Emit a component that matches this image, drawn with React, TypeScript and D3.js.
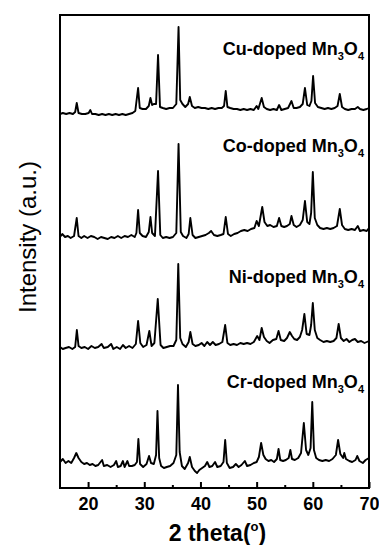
import React, { useRef, useEffect } from "react";
import * as d3 from "d3";

// x axis: 2 theta (degrees)
const thetaDomain = [15, 70];
const majorTicks = [20, 30, 40, 50, 60, 70];
const minorTicks = [25, 35, 45, 55, 65];

// stacked patterns, bottom to top
const dopants = ["Cr", "Ni", "Co", "Cu"];
const stackOffsets = [0, 117, 228, 352];

// [2theta, intensity (a.u.)]
const crPattern: [number, number][] = [
  [15.0, 26], [15.5, 29], [16.0, 25], [16.5, 27], [17.0, 25], [17.5, 30], [17.9, 35], [18.3, 30],
  [18.8, 26], [19.3, 24], [19.8, 25], [20.3, 23], [20.8, 24], [21.3, 22], [21.8, 23], [22.5, 28],
  [22.8, 22], [23.4, 23], [24.0, 21], [24.6, 23], [25.0, 27], [25.3, 21], [25.8, 22], [26.2, 27],
  [26.5, 21], [27.0, 27], [27.3, 22], [27.8, 22], [28.3, 23], [28.7, 26], [28.95, 49], [29.25, 24],
  [29.8, 21], [30.4, 24], [30.85, 32], [31.2, 25], [31.7, 24], [32.1, 33], [32.35, 77], [32.65, 30],
  [33.0, 22], [33.5, 20], [34.0, 21], [34.6, 22], [35.2, 25], [35.7, 33], [36.0, 103], [36.3, 36],
  [36.7, 22], [37.2, 19], [37.8, 25], [38.1, 31], [38.5, 21], [39.0, 17], [39.4, 15], [39.8, 18],
  [40.3, 20], [40.8, 22], [41.2, 26], [41.6, 21], [42.1, 22], [42.6, 26], [43.0, 21], [43.6, 22],
  [44.1, 26], [44.4, 48], [44.7, 25], [45.2, 20], [45.8, 21], [46.3, 24], [46.8, 21], [47.3, 23],
  [47.9, 27], [48.3, 22], [48.9, 23], [49.5, 25], [50.0, 26], [50.4, 31], [50.8, 45], [51.2, 33],
  [51.6, 29], [52.1, 27], [52.6, 28], [53.1, 26], [53.6, 29], [53.9, 39], [54.2, 28], [54.7, 27],
  [55.2, 28], [55.7, 30], [56.0, 38], [56.3, 29], [56.8, 28], [57.4, 30], [57.9, 35], [58.4, 65],
  [58.8, 38], [59.2, 33], [59.6, 40], [59.9, 86], [60.2, 38], [60.6, 30], [61.1, 28], [61.7, 27],
  [62.3, 28], [62.9, 27], [63.5, 29], [64.1, 33], [64.5, 48], [64.9, 34], [65.4, 30], [65.6, 35],
  [65.9, 29], [66.5, 27], [67.0, 26], [67.6, 28], [67.9, 32], [68.3, 27], [68.9, 25], [69.4, 28],
  [70.0, 30],
];

const niPattern: [number, number][] = [
  [15.0, 24], [15.5, 22], [16.0, 23], [16.6, 24], [17.2, 22], [17.7, 24], [18.0, 41], [18.3, 25],
  [18.8, 23], [19.4, 24], [20.0, 22], [20.6, 25], [21.2, 23], [21.8, 24], [22.4, 27], [22.8, 23],
  [23.5, 24], [24.1, 27], [24.5, 22], [25.1, 24], [25.7, 22], [26.2, 26], [26.7, 23], [27.3, 25],
  [27.9, 23], [28.5, 27], [28.9, 50], [29.3, 28], [29.8, 24], [30.4, 26], [30.9, 40], [31.3, 25],
  [31.8, 28], [32.4, 72], [32.9, 26], [33.4, 23], [34.0, 24], [34.6, 25], [35.2, 25], [35.7, 31],
  [36.05, 107], [36.4, 33], [36.8, 27], [37.4, 24], [37.9, 29], [38.2, 39], [38.6, 27], [39.1, 25],
  [39.7, 26], [40.2, 28], [40.7, 25], [41.2, 29], [41.7, 26], [42.2, 29], [42.7, 26], [43.3, 27],
  [43.9, 29], [44.4, 46], [44.8, 28], [45.3, 26], [45.9, 27], [46.5, 26], [47.1, 28], [47.7, 27],
  [48.3, 28], [48.9, 27], [49.5, 29], [50.1, 35], [50.5, 31], [50.9, 43], [51.3, 34], [51.8, 30],
  [52.3, 28], [52.9, 31], [53.5, 32], [53.9, 40], [54.3, 31], [54.9, 30], [55.4, 33], [55.9, 39],
  [56.3, 35], [56.7, 32], [57.2, 31], [57.7, 34], [58.1, 41], [58.5, 57], [58.9, 37], [59.4, 36],
  [59.7, 46], [60.0, 68], [60.35, 41], [60.8, 33], [61.3, 31], [61.9, 29], [62.5, 30], [63.1, 29],
  [63.7, 30], [64.2, 33], [64.6, 47], [65.0, 33], [65.5, 30], [66.0, 32], [66.5, 29], [67.0, 31],
  [67.5, 32], [68.0, 29], [68.6, 30], [69.2, 28], [69.6, 29], [70.0, 30],
];

const coPattern: [number, number][] = [
  [15.0, 23], [15.4, 26], [15.9, 23], [16.4, 24], [16.9, 22], [17.5, 24], [17.98, 42], [18.3, 24],
  [18.8, 22], [19.3, 24], [19.9, 22], [20.5, 24], [21.1, 23], [21.7, 21], [22.3, 23], [22.9, 22],
  [23.5, 21], [24.1, 23], [24.7, 22], [25.3, 24], [25.9, 22], [26.5, 24], [27.1, 23], [27.7, 25],
  [28.3, 23], [28.6, 27], [28.9, 50], [29.2, 27], [29.7, 24], [30.3, 23], [30.8, 28], [31.1, 43],
  [31.4, 27], [31.9, 24], [32.45, 89], [32.85, 25], [33.3, 22], [33.9, 23], [34.5, 22], [35.1, 23],
  [35.7, 27], [36.1, 116], [36.5, 28], [36.9, 24], [37.5, 22], [37.9, 26], [38.2, 42], [38.6, 25],
  [39.1, 22], [39.7, 23], [40.3, 24], [40.9, 25], [41.5, 27], [41.9, 29], [42.4, 25], [43.0, 24],
  [43.6, 25], [44.1, 26], [44.5, 43], [44.9, 26], [45.4, 24], [46.0, 26], [46.6, 27], [47.2, 29],
  [47.8, 30], [48.4, 29], [49.0, 31], [49.6, 32], [50.0, 39], [50.4, 34], [51.0, 53], [51.4, 38],
  [51.9, 34], [52.4, 35], [53.0, 33], [53.6, 34], [54.0, 42], [54.4, 34], [54.9, 33], [55.4, 34],
  [55.9, 36], [56.2, 44], [56.6, 35], [57.1, 33], [57.7, 35], [58.2, 40], [58.6, 59], [59.0, 38],
  [59.4, 36], [59.7, 47], [60.0, 88], [60.35, 42], [60.8, 35], [61.3, 32], [61.9, 31], [62.5, 32],
  [63.1, 31], [63.7, 32], [64.3, 34], [64.8, 51], [65.2, 35], [65.7, 31], [66.3, 30], [66.9, 31],
  [67.5, 30], [68.0, 34], [68.4, 29], [69.0, 30], [69.6, 29], [70.0, 32],
];

const cuPattern: [number, number][] = [
  [15.0, 22], [15.5, 23], [16.1, 22], [16.7, 23], [17.3, 22], [17.7, 24], [17.98, 33], [18.3, 23],
  [18.9, 22], [19.5, 22], [20.1, 23], [20.4, 26], [20.7, 22], [21.3, 22], [21.9, 21], [22.5, 22],
  [23.1, 21], [23.7, 22], [24.3, 21], [24.9, 22], [25.5, 21], [26.1, 22], [26.7, 21], [27.3, 22],
  [27.9, 23], [28.4, 25], [28.9, 48], [29.2, 28], [29.7, 27], [30.3, 27], [30.8, 30], [31.1, 38],
  [31.4, 31], [31.7, 32], [32.1, 32], [32.45, 81], [32.8, 29], [33.3, 28], [33.9, 27], [34.5, 28],
  [35.1, 28], [35.7, 32], [36.1, 109], [36.4, 36], [36.8, 32], [37.3, 29], [37.8, 32], [38.1, 39],
  [38.5, 30], [39.0, 28], [39.6, 29], [40.2, 28], [40.8, 28], [41.4, 27], [42.0, 28], [42.6, 27],
  [43.2, 28], [43.8, 28], [44.2, 30], [44.5, 45], [44.8, 29], [45.3, 28], [45.9, 27], [46.5, 27],
  [47.1, 26], [47.7, 27], [48.3, 26], [48.9, 27], [49.5, 26], [50.0, 30], [50.3, 27], [50.9, 38],
  [51.3, 29], [51.8, 27], [52.4, 26], [53.0, 27], [53.6, 26], [54.0, 31], [54.4, 26], [55.0, 27],
  [55.6, 28], [56.2, 35], [56.6, 28], [57.1, 28], [57.7, 29], [58.2, 32], [58.6, 48], [59.0, 31],
  [59.4, 30], [59.75, 35], [60.05, 60], [60.4, 33], [60.9, 29], [61.5, 28], [62.1, 27], [62.7, 28],
  [63.3, 27], [63.9, 28], [64.4, 30], [64.8, 42], [65.2, 29], [65.7, 27], [66.3, 26], [66.9, 27],
  [67.5, 27], [68.0, 29], [68.4, 27], [69.0, 26], [69.6, 27], [70.0, 28],
];

const patterns = [crPattern, niPattern, coPattern, cuPattern];

const W = 379;
const H = 545;
const margin = { top: 15, right: 10, bottom: 57, left: 60 };
const font = "Arial, 'Liberation Sans', sans-serif";

export default function App() {
  const axisRef = useRef<SVGGElement>(null);
  const minorRef = useRef<SVGGElement>(null);

  const x = d3.scaleLinear().domain(thetaDomain).range([margin.left, W - margin.right]);
  const y = d3.scaleLinear().domain([0, 473]).range([H - margin.bottom, margin.top]);

  useEffect(() => {
    const major = d3
      .axisBottom(x)
      .tickValues(majorTicks)
      .tickSizeInner(-6)
      .tickSizeOuter(0)
      .tickPadding(9)
      .tickFormat(d3.format("d"));
    const g = d3.select(axisRef.current!);
    g.call(major);
    g.select(".domain").remove();
    g.selectAll(".tick line").attr("stroke", "#000").attr("stroke-width", 2);
    g.selectAll(".tick text")
      .attr("fill", "#000")
      .style("font-family", font)
      .style("font-size", "18px")
      .style("font-weight", "bold");

    // minor ticks, no labels
    const minor = d3.axisBottom(x).tickValues(minorTicks).tickSizeInner(-3).tickSizeOuter(0).tickFormat(() => "");
    const m = d3.select(minorRef.current!);
    m.call(minor);
    m.select(".domain").remove();
    m.selectAll(".tick line").attr("stroke", "#000").attr("stroke-width", 2);
  }, []);

  const lineFor = (offset: number) =>
    d3
      .line<[number, number]>()
      .x((d) => x(d[0]))
      .y((d) => y(d[1] + offset));

  const labelY = [388, 283, 152, 55];

  return (
    <svg width={W} height={H} style={{ position: "absolute", left: 0, top: 0, background: "#fff" }}>
      <defs>
        <clipPath id="plotClip">
          <rect x={margin.left} y={margin.top} width={W - margin.left - margin.right} height={H - margin.top - margin.bottom} />
        </clipPath>
      </defs>
      <g clipPath="url(#plotClip)">
        {patterns.map((p, i) => (
          <path
            key={dopants[i]}
            d={lineFor(stackOffsets[i])(p) || ""}
            fill="none"
            stroke="#000"
            strokeWidth={1.9}
            strokeLinejoin="round"
          />
        ))}
      </g>
      {dopants.map((dp, i) => (
        <text
          key={dp}
          x={W - margin.right - 5}
          y={labelY[i]}
          textAnchor="end"
          fontFamily={font}
          fontWeight="bold"
          fontSize={18}
          fill="#000"
        >
          {`${dp}-doped Mn`}
          <tspan dy={5} fontSize={11}>3</tspan>
          <tspan dy={-5}>O</tspan>
          <tspan dy={5} fontSize={11}>4</tspan>
        </text>
      ))}
      <rect
        x={margin.left}
        y={margin.top}
        width={W - margin.left - margin.right}
        height={H - margin.top - margin.bottom}
        fill="none"
        stroke="#000"
        strokeWidth={2}
      />
      <g ref={axisRef} transform={`translate(0,${H - margin.bottom})`} />
      <g ref={minorRef} transform={`translate(0,${H - margin.bottom})`} />
      <text
        x={(margin.left + W - margin.right) / 2 + 3}
        y={541}
        textAnchor="middle"
        fontFamily={font}
        fontWeight="bold"
        fontSize={23}
        fill="#000"
      >
        2 theta(
        <tspan dy={-10} fontSize={13}>o</tspan>
        <tspan dy={10}>)</tspan>
      </text>
      <text
        transform={`translate(36,${237}) rotate(-90)`}
        textAnchor="middle"
        fontFamily={font}
        fontSize={24}
        fill="#000"
      >
        Intensity (a.u.)
      </text>
    </svg>
  );
}
